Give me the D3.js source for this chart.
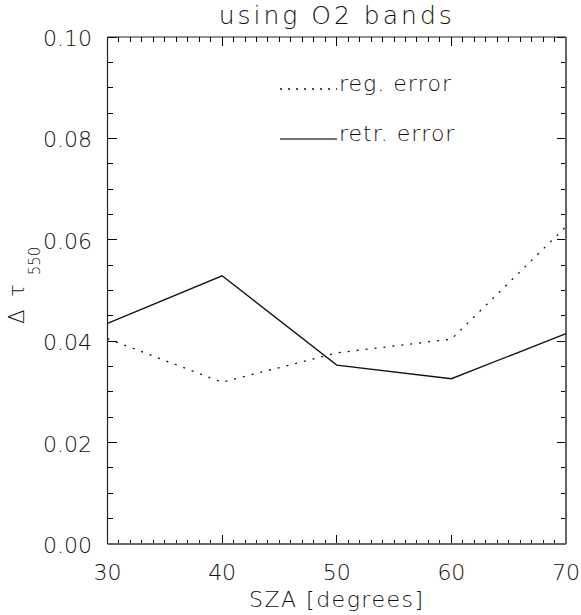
<!DOCTYPE html>
<html>
<head>
<meta charset="utf-8">
<script src="https://cdn.jsdelivr.net/npm/d3@7"></script>
<style>
  body { margin: 0; background: #fff; }
  svg { display: block; }
  text { font-family: "DejaVu Sans", sans-serif; font-weight: 200; fill: #111; }
  .tick { shape-rendering: crispEdges; }
</style>
</head>
<body>
<svg id="chart" width="581" height="615"></svg>
<script>
// ---- data ----
const sza = [30, 40, 50, 60, 70];
const regError = [0.0405, 0.0319, 0.0377, 0.0404, 0.0626];
const retrError = [0.0435, 0.0529, 0.0353, 0.0326, 0.0415];
const xTicks = [30, 40, 50, 60, 70];
const yTicks = [0.00, 0.02, 0.04, 0.06, 0.08, 0.10];
const xMinorTicks = d3.range(30, 70.001, 1);
const yMinorTicks = d3.range(0, 0.1001, 0.005);
const legendLabels = ["reg. error", "retr. error"];

// ---- layout ----
const svg = d3.select("#chart");
const L = 107.5, R = 566, T = 37, B = 544;
const x = d3.scaleLinear().domain([30, 70]).range([L, R]);
const y = d3.scaleLinear().domain([0, 0.1]).range([B, T]);

const ink = "#111";

const g = svg.append("g");
function ticks(vals, len, isX) {
  vals.forEach(v => {
    if (isX) {
      g.append("line").attr("class", "tick").attr("x1", x(v)).attr("x2", x(v)).attr("y1", B).attr("y2", B - len).attr("stroke", "#000").attr("stroke-width", 1);
      g.append("line").attr("class", "tick").attr("x1", x(v)).attr("x2", x(v)).attr("y1", T).attr("y2", T + len).attr("stroke", "#000").attr("stroke-width", 1);
    } else {
      g.append("line").attr("class", "tick").attr("y1", y(v)).attr("y2", y(v)).attr("x1", L).attr("x2", L + len).attr("stroke", "#000").attr("stroke-width", 1);
      g.append("line").attr("class", "tick").attr("y1", y(v)).attr("y2", y(v)).attr("x1", R).attr("x2", R - len).attr("stroke", "#000").attr("stroke-width", 1);
    }
  });
}
ticks(xMinorTicks, 4.5, true);
ticks(xTicks, 9, true);
ticks(yMinorTicks, 5, false);
ticks(yTicks, 9, false);

// frame
g.append("line").attr("x1", L).attr("x2", L).attr("y1", T).attr("y2", B).attr("stroke", "#222").attr("stroke-width", 1.2);
g.append("line").attr("x1", L).attr("x2", R).attr("y1", T).attr("y2", T).attr("stroke", "#222").attr("stroke-width", 1.2);
g.append("line").attr("x1", R).attr("x2", R).attr("y1", T).attr("y2", B).attr("stroke", "#666").attr("stroke-width", 2);
g.append("line").attr("x1", L).attr("x2", R).attr("y1", B).attr("y2", B).attr("stroke", "#666").attr("stroke-width", 2);

// tick labels
svg.append("g").selectAll("text").data(xTicks).join("text")
  .attr("x", d => x(d)).attr("y", 580)
  .attr("text-anchor", "middle").attr("font-size", 22)
  .text(d => d3.format("d")(d));
svg.append("g").selectAll("text").data(yTicks).join("text")
  .attr("x", 92).attr("y", d => y(d) + 9)
  .attr("text-anchor", "end").attr("font-size", 22)
  .text(d => d3.format(".2f")(d));

// titles
svg.append("text").attr("x", (L + R) / 2).attr("y", 24)
  .attr("text-anchor", "middle").attr("font-size", 25).attr("letter-spacing", 3)
  .text("using O2 bands");
svg.append("text").attr("x", (L + R) / 2).attr("y", 607)
  .attr("text-anchor", "middle").attr("font-size", 22).attr("letter-spacing", 1.5)
  .text("SZA [degrees]");
const yt = svg.append("text").attr("transform", "translate(24,324) rotate(-90)")
  .attr("text-anchor", "start").attr("font-size", 21);
yt.append("tspan").text("Δ τ").attr("letter-spacing", 3);
yt.append("tspan").text("550").attr("font-size", 15).attr("dx", 6).attr("dy", 16);

// lines
const line = d3.line().x((d, i) => x(sza[i])).y(d => y(d));
svg.append("path").datum(regError).attr("d", line)
  .attr("fill", "none").attr("stroke", ink).attr("stroke-width", 1.3)
  .attr("stroke-dasharray", "2,7");
svg.append("path").datum(retrError).attr("d", line)
  .attr("fill", "none").attr("stroke", ink).attr("stroke-width", 1.3);

// legend
const legY = [89, 139];
svg.append("line").attr("x1", 280).attr("x2", 337).attr("y1", legY[0]).attr("y2", legY[0])
  .attr("stroke", ink).attr("stroke-width", 1.3).attr("stroke-dasharray", "2,6");
svg.append("line").attr("x1", 280).attr("x2", 337).attr("y1", legY[1]).attr("y2", legY[1])
  .attr("stroke", "#444").attr("stroke-width", 1.6);
svg.append("g").selectAll("text").data(legendLabels).join("text")
  .attr("x", 339).attr("y", (d, i) => legY[i] + 2)
  .attr("font-size", 22).attr("letter-spacing", 1)
  .text(d => d);
</script>
</body>
</html>
